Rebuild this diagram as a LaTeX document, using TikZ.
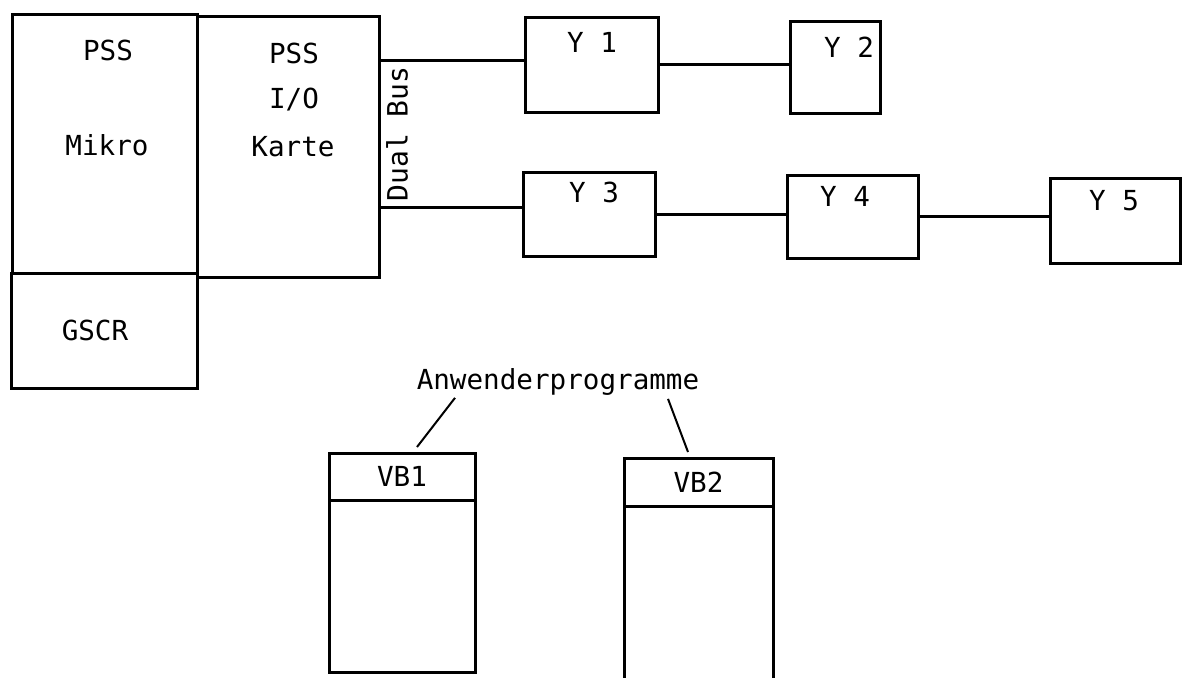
\documentclass[tikz,border=0pt]{standalone}
\usepackage{fontspec}
\setmonofont{DejaVu Sans Mono}
\usetikzlibrary{positioning,calc}
\tikzset{
  blockbox/.style={
    rectangle, draw=black, line width=1.5pt,
    inner sep=0pt, outer sep=0pt, font=\ttfamily\fontsize{13.8}{16}\selectfont
  },
  boxtext/.style={
    font=\ttfamily\fontsize{13.8}{16}\selectfont, inner sep=0pt
  },
  buslabel/.style={
    font=\ttfamily\fontsize{14}{16}\selectfont, inner sep=0pt, rotate=90
  },
  busline/.style={line width=1.5pt},
  pointer/.style={line width=1pt},
}
\begin{document}
\begin{tikzpicture}[x=0.5pt, y=-0.5pt]
\useasboundingbox (0,0) rectangle (1186,677);
% PSS Mikro, I/O Karte, GSCR
\node[blockbox, minimum width=92.5pt, minimum height=129.5pt] (mikro) at (104.5,143.5) {};
\node[blockbox, below=0pt of mikro, minimum width=93pt, minimum height=57.5pt] (gscr) {};
\node[blockbox, minimum width=91pt, minimum height=130.5pt] (iokarte) at (288,146.5) {};
\node[boxtext] (mikro-pss) at (108,50) {PSS};
\node[boxtext] (mikro-name) at (107,145) {Mikro};
\node[boxtext] (io-pss) at (294,53) {PSS};
\node[boxtext] (io-io) at (294,100) {I/O};
\node[boxtext] (io-karte) at (293,147) {Karte};
\node[boxtext] (gscr-name) at (95,330) {GSCR};

% Bus Teilnehmer
\node[blockbox, minimum width=66.5pt, minimum height=47.5pt] (y1) at (591.5,64.5) {};
\node[blockbox, minimum width=45pt, minimum height=46pt] (y2) at (835,67) {};
\node[blockbox, minimum width=66pt, minimum height=42pt] (y3) at (589,214) {};
\node[blockbox, minimum width=65.5pt, minimum height=41.5pt] (y4) at (852.5,216.5) {};
\node[blockbox, minimum width=65pt, minimum height=42.5pt] (y5) at (1115,220.5) {};
\node[boxtext] (y1-name) at (592,42) {Y 1};
\node[boxtext] (y2-name) at (849,47) {Y 2};
\node[boxtext] (y3-name) at (594,192) {Y 3};
\node[boxtext] (y4-name) at (845,196) {Y 4};
\node[boxtext] (y5-name) at (1114,201) {Y 5};

% Dual Bus
\coordinate (y1-in) at ([yshift=2pt]y1.west);
\coordinate (y3-in) at ([yshift=3.5pt]y3.west);
\draw[busline] (iokarte.east |- y1-in) -- (y1-in);
\draw[busline] (iokarte.east |- y3-in) -- (y3-in);
\draw[busline] (y1.east) -- (y1.east -| y2.west);
\draw[busline] (y3.east) -- (y3.east -| y4.west);
\draw[busline] (y4.east) -- (y4.east -| y5.west);
\node[buslabel] (dualbus) at (397,134) {Dual Bus};

% Anwenderprogramme
\node[blockbox, minimum width=73pt, minimum height=23.5pt] (vb1-head) at (402,476.5) {VB1};
\node[blockbox, below=0pt of vb1-head, minimum width=73pt, minimum height=86pt] (vb1-body) {};
\node[blockbox, minimum width=74.5pt, minimum height=24pt] (vb2-head) at (698.5,482) {VB2};
\node[blockbox, below=0pt of vb2-head, minimum width=74.5pt, minimum height=88pt] (vb2-body) {};
\node[boxtext] (anwend) at (558,382) {Anwenderprogramme};
\draw[pointer] ($(anwend.south)+(-103,2)$) -- ($(vb1-head.north)+(15,-6)$);
\draw[pointer] ($(anwend.south)+(110,3)$) -- ($(vb2-head.north)+(-10.5,-6)$);
\end{tikzpicture}
\end{document}
